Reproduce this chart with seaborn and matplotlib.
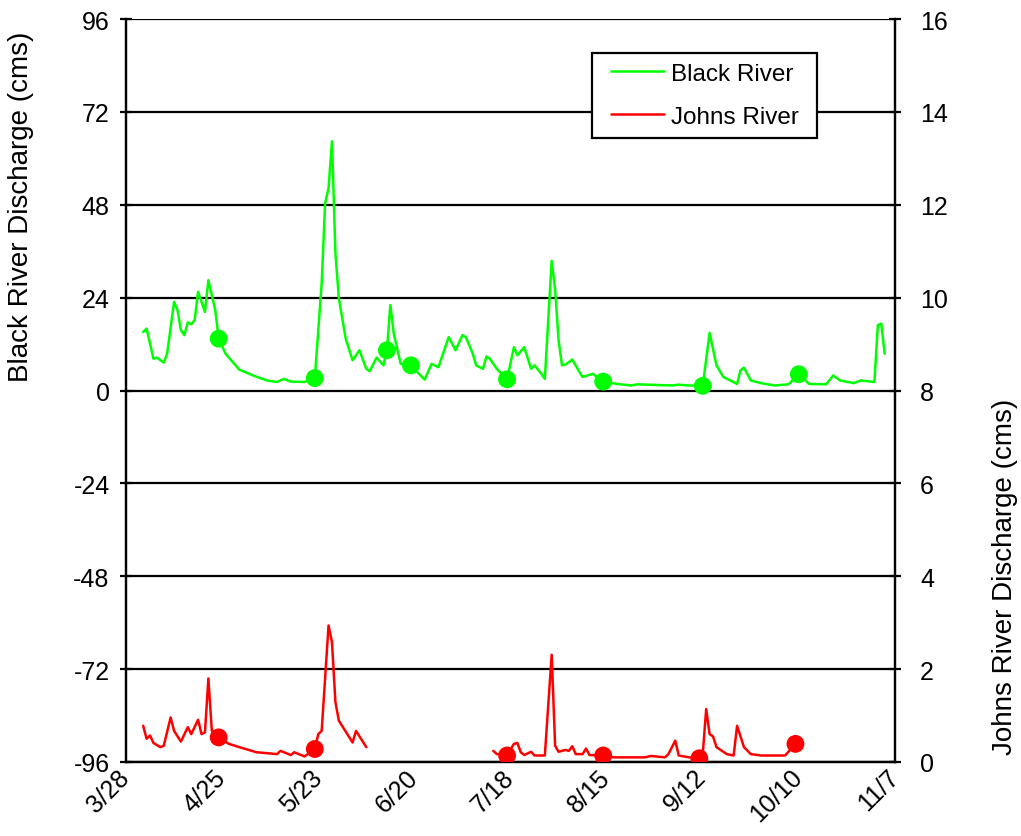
import matplotlib
matplotlib.use("Agg")
import matplotlib.pyplot as plt
from matplotlib.legend_handler import HandlerLine2D
import pandas as pd
import seaborn as sns

YEAR = 2011

# Daily discharge, Black River (cms, left axis)
black_dates = [
    "4/2", "4/3", "4/5", "4/6", "4/8", "4/9", "4/11", "4/12", "4/13", "4/14",
    "4/15", "4/16", "4/17", "4/18", "4/20", "4/21", "4/23", "4/24", "4/26", "4/30",
    "5/4", "5/8", "5/11", "5/13", "5/15", "5/19", "5/22", "5/24", "5/25", "5/26",
    "5/27", "5/28", "5/29", "5/31", "6/2", "6/4", "6/6", "6/7", "6/9", "6/11",
    "6/12", "6/13", "6/14", "6/16", "6/19", "6/23", "6/25", "6/27", "6/30", "7/2",
    "7/4", "7/5", "7/7", "7/8", "7/10", "7/11", "7/12", "7/14", "7/17", "7/19",
    "7/20", "7/22", "7/24", "7/25", "7/27", "7/28", "7/30", "7/31", "8/1", "8/2",
    "8/3", "8/5", "8/7", "8/8", "8/11", "8/14", "8/18", "8/22", "8/24", "9/3",
    "9/5", "9/8", "9/12", "9/14", "9/16", "9/18", "9/22", "9/23", "9/24", "9/26",
    "9/29", "10/3", "10/7", "10/10", "10/13", "10/18", "10/20", "10/22", "10/26", "10/28",
    "10/30", "11/1", "11/2", "11/3", "11/4",
]
black_flow = [
    15.1, 16.0, 8.2, 8.5, 7.2, 9.6, 22.9, 20.8, 15.6, 14.3,
    17.6, 17.1, 18.2, 25.5, 20.3, 28.5, 20.8, 13.4, 9.5, 5.4,
    3.9, 2.6, 2.2, 3.0, 2.3, 2.2, 3.2, 27.7, 48.4, 52.3,
    64.4, 35.5, 23.8, 13.4, 7.8, 10.4, 5.6, 5.0, 8.5, 6.5,
    10.4, 22.1, 14.7, 6.9, 6.5, 2.8, 6.9, 6.0, 13.8, 10.4,
    14.3, 13.8, 9.5, 6.5, 5.6, 8.8, 8.2, 5.6, 2.9, 11.2,
    9.1, 11.2, 5.6, 6.5, 4.3, 3.0, 33.5, 26.1, 13.0, 6.5,
    6.7, 8.0, 4.9, 3.5, 4.3, 2.3, 1.7, 1.3, 1.6, 1.3,
    1.5, 1.3, 1.2, 14.9, 6.5, 3.5, 1.7, 5.2, 5.9, 2.6,
    1.9, 1.3, 1.6, 4.2, 1.7, 1.6, 3.9, 2.6, 1.9, 2.6,
    2.4, 2.2, 16.9, 17.3, 9.5,
]

# Daily discharge, Johns River (cms, right axis): spring record, then summer record
johns_spring_dates = [
    "4/2", "4/3", "4/4", "4/5", "4/7", "4/8", "4/10", "4/11", "4/13", "4/15",
    "4/16", "4/18", "4/19", "4/20", "4/21", "4/22", "4/24", "4/27", "4/30", "5/5",
    "5/8", "5/11", "5/12", "5/15", "5/16", "5/19", "5/22", "5/23", "5/24", "5/26",
    "5/27", "5/28", "5/29", "6/2", "6/3", "6/6",
]
johns_spring_flow = [
    0.78, 0.50, 0.57, 0.41, 0.32, 0.35, 0.96, 0.67, 0.44, 0.75,
    0.60, 0.91, 0.60, 0.64, 1.80, 0.67, 0.53, 0.39, 0.32, 0.21,
    0.19, 0.17, 0.24, 0.15, 0.21, 0.12, 0.28, 0.60, 0.67, 2.94,
    2.58, 1.29, 0.89, 0.42, 0.67, 0.32,
]
johns_summer_dates = [
    "7/13", "7/14", "7/17", "7/19", "7/20", "7/21", "7/22", "7/24", "7/25", "7/28",
    "7/30", "7/31", "8/1", "8/3", "8/4", "8/5", "8/6", "8/8", "8/9", "8/10",
    "8/14", "8/17", "8/26", "8/28", "9/1", "9/2", "9/4", "9/5", "9/8", "9/11",
    "9/12", "9/13", "9/14", "9/15", "9/16", "9/19", "9/21", "9/22", "9/24", "9/26",
    "9/29", "10/6", "10/9",
]
johns_summer_flow = [
    0.24, 0.17, 0.14, 0.39, 0.41, 0.21, 0.15, 0.22, 0.14, 0.14,
    2.31, 0.35, 0.22, 0.26, 0.24, 0.34, 0.17, 0.17, 0.29, 0.15,
    0.14, 0.10, 0.10, 0.13, 0.10, 0.17, 0.46, 0.14, 0.10, 0.08,
    0.17, 1.14, 0.60, 0.55, 0.32, 0.17, 0.14, 0.78, 0.32, 0.17,
    0.14, 0.14, 0.39,
]

# Sampling days
black_sample_dates = ["4/24", "5/22", "6/12", "6/19", "7/17", "8/14", "9/12", "10/10"]
black_sample_flow = [13.4, 3.2, 10.4, 6.5, 2.9, 2.3, 1.2, 4.2]
johns_sample_dates = ["4/24", "5/22", "7/17", "8/14", "9/11", "10/9"]
johns_sample_flow = [0.53, 0.28, 0.14, 0.14, 0.08, 0.39]

x_tick_labels = ["3/28", "4/25", "5/23", "6/20", "7/18", "8/15", "9/12", "10/10", "11/7"]
left_ticks = [-96, -72, -48, -24, 0, 24, 48, 72, 96]
right_ticks = [0, 2, 4, 6, 8, 10, 12, 14, 16]


def to_dates(md):
    return pd.to_datetime([f"{YEAR}/{s}" for s in md], format="%Y/%m/%d")


class InsetLineHandler(HandlerLine2D):
    """Legend line that starts a little to the right of its handle box."""

    def create_artists(self, legend, orig_handle, xdescent, ydescent, width,
                       height, fontsize, trans):
        shift = 0.37 * fontsize
        return super().create_artists(legend, orig_handle, xdescent - shift,
                                      ydescent, width - shift, height,
                                      fontsize, trans)


black = pd.DataFrame({"date": to_dates(black_dates), "flow": black_flow})
johns_a = pd.DataFrame({"date": to_dates(johns_spring_dates), "flow": johns_spring_flow})
johns_b = pd.DataFrame({"date": to_dates(johns_summer_dates), "flow": johns_summer_flow})
black_pts = pd.DataFrame({"date": to_dates(black_sample_dates), "flow": black_sample_flow})
johns_pts = pd.DataFrame({"date": to_dates(johns_sample_dates), "flow": johns_sample_flow})

sns.set_theme(style="white")
plt.rcParams["font.family"] = ["Liberation Sans", "DejaVu Sans"]
plt.rcParams["axes.unicode_minus"] = False
plt.rcParams["text.color"] = "black"
plt.rcParams["axes.labelcolor"] = "black"

GREEN = "#00FF00"
RED = "#FF0000"
LW = 1.8

fig = plt.figure(figsize=(10.21, 8.37), dpi=100)
ax = fig.add_axes([126 / 1021, 1 - 763 / 837, 769 / 1021, 743 / 837])
ax2 = ax.twinx()

sns.lineplot(data=black, x="date", y="flow", ax=ax, color=GREEN, lw=LW,
             label="Black River", legend=False)
sns.scatterplot(data=black_pts, x="date", y="flow", ax=ax, color=GREEN, s=165,
                edgecolor="none", zorder=4, legend=False)

sns.lineplot(data=johns_a, x="date", y="flow", ax=ax2, color=RED, lw=LW,
             label="Johns River", legend=False)
sns.lineplot(data=johns_b, x="date", y="flow", ax=ax2, color=RED, lw=LW,
             legend=False)
sns.scatterplot(data=johns_pts, x="date", y="flow", ax=ax2, color=RED, s=165,
                edgecolor="none", zorder=4, legend=False)

# Axes ranges and ticks
xticks = to_dates(x_tick_labels)
ax.set_xlim(xticks[0], xticks[-1])
ax.set_xticks(xticks)
ax.set_xticklabels(x_tick_labels, rotation=45, ha="right", va="center",
                   rotation_mode="anchor")
ax.set_ylim(-96, 96)
ax.set_yticks(left_ticks)
ax2.set_ylim(0, 16)
ax2.set_yticks(right_ticks)

ax.yaxis.grid(True, color="black", lw=1.6)
ax.xaxis.grid(False)
ax2.grid(False)

for a in (ax, ax2):
    for sp in a.spines.values():
        sp.set_color("black")
        sp.set_linewidth(1.6)
    a.spines["top"].set_visible(False)
    a.tick_params(axis="both", width=1.6, colors="black", labelsize=18)

ax.tick_params(axis="x", direction="out", length=6, pad=2)
ax.tick_params(axis="y", direction="inout", length=8.5, pad=7.5)
ax2.tick_params(axis="y", direction="inout", length=8.5, pad=13.7)

ax.set_xlabel("")
ax.set_ylabel("Black River Discharge (cms)", fontsize=20, color="black")
ax2.set_ylabel("Johns River Discharge (cms)", fontsize=20, color="black")
ax.yaxis.set_label_coords(-0.12, 0.748)
ax2.yaxis.set_label_coords(1.126, 0.25)

handles = ax.get_lines()[:1] + ax2.get_lines()[:1]
leg = ax2.legend(handles, ["Black River", "Johns River"], loc="upper left",
                 bbox_to_anchor=(0.606, 0.80, 0.2926, 0.1543), mode="expand",
                 borderaxespad=0, fontsize=17.5,
                 frameon=True, fancybox=False, framealpha=1, edgecolor="black",
                 handlelength=2.55, handletextpad=0.29, labelspacing=0.86,
                 borderpad=0.41,
                 handler_map={h: InsetLineHandler() for h in handles})
leg.get_frame().set_linewidth(1.6)

fig.savefig("out.png", dpi=100, facecolor="white")
